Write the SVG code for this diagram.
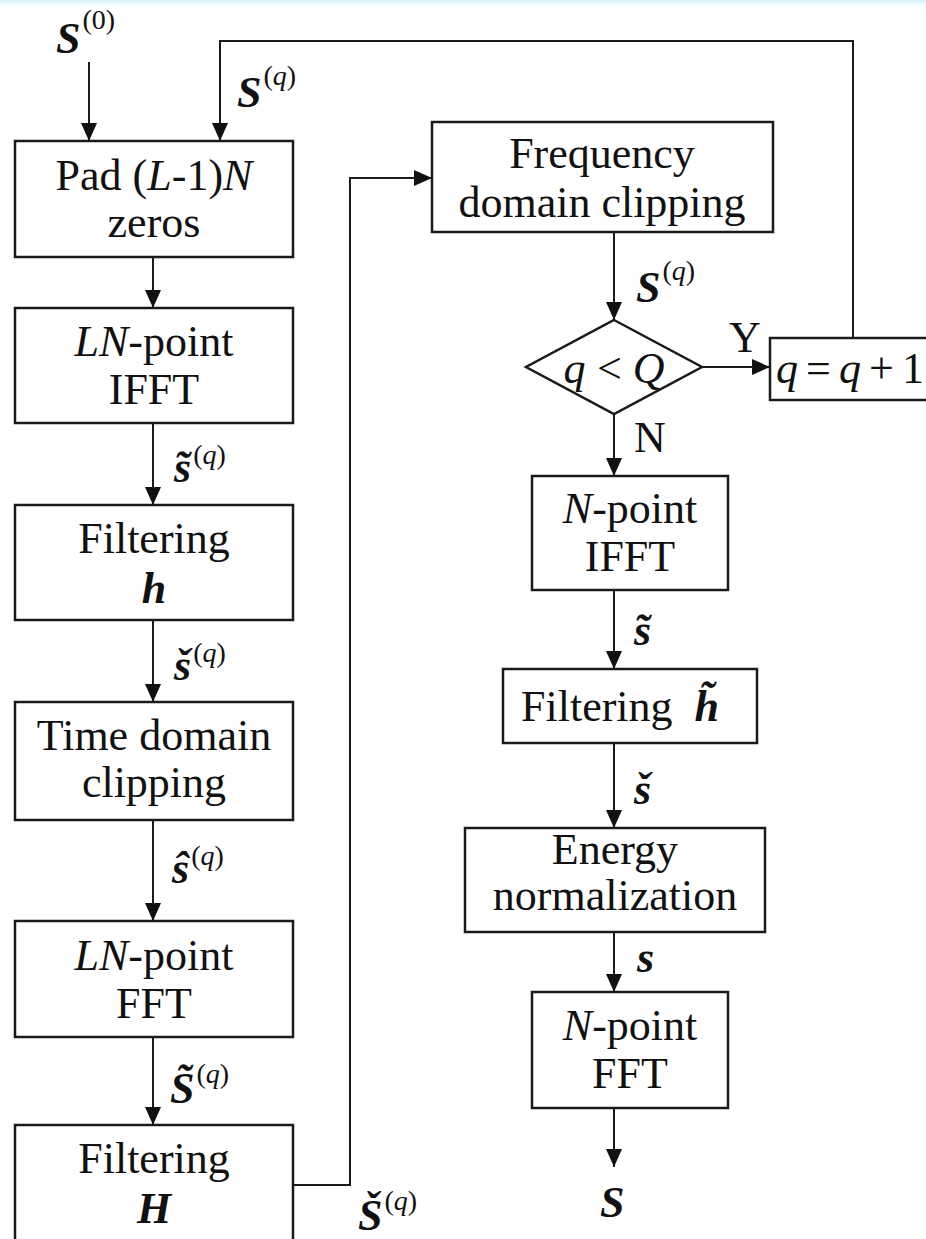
<svg xmlns="http://www.w3.org/2000/svg" width="926" height="1239" viewBox="0 0 926 1239">
  <defs>
    <style>
      .box { fill: #fff; stroke: #1a1a1a; stroke-width: 2.5; }
      .wire { fill: none; stroke: #1a1a1a; stroke-width: 2; }
      .arr { marker-end: url(#head); }
      .t { font-family: "Liberation Serif", "Times New Roman", serif; font-size: 44px; fill: #111; text-anchor: middle; }
      .it { font-style: italic; }
      .bi { font-style: italic; font-weight: bold; }
      .lbl { font-family: "Liberation Serif", "Times New Roman", serif; font-size: 44px; font-style: italic; font-weight: bold; fill: #111; }
      .sup { font-size: 28px; font-weight: normal; font-style: normal; }
    </style>
    <marker id="head" markerUnits="userSpaceOnUse" markerWidth="18" markerHeight="18" viewBox="0 0 18 18" refX="18" refY="9" orient="auto">
      <path d="M0,1 L18,9 L0,17 Z" fill="#111"/>
    </marker>
    <linearGradient id="haze" x1="0" y1="0" x2="0" y2="1">
      <stop offset="0" stop-color="#cdeef8" stop-opacity="0.9"/>
      <stop offset="1" stop-color="#ffffff" stop-opacity="0"/>
    </linearGradient>
  </defs>

  <rect width="926" height="1239" fill="#fff"/>
  <rect width="926" height="10" fill="url(#haze)"/>

  <!-- connectors -->
  <g id="connectors">
    <!-- left column -->
    <line class="wire arr" x1="89" y1="62" x2="89" y2="141"/>
    <polyline class="wire arr" points="853,338 853,41 220,41 220,141"/>
    <line class="wire arr" x1="153" y1="257" x2="153" y2="308"/>
    <line class="wire arr" x1="153" y1="423" x2="153" y2="505"/>
    <line class="wire arr" x1="153" y1="620" x2="153" y2="702"/>
    <line class="wire arr" x1="153" y1="820" x2="153" y2="921"/>
    <line class="wire arr" x1="153" y1="1037" x2="153" y2="1125"/>
    <polyline class="wire arr" points="293,1185 350,1185 350,178 432,178"/>
    <!-- right column -->
    <line class="wire arr" x1="614" y1="232" x2="614" y2="320"/>
    <line class="wire arr" x1="702" y1="367" x2="770" y2="367"/>
    <line class="wire arr" x1="614" y1="414" x2="614" y2="476"/>
    <line class="wire arr" x1="614" y1="590" x2="614" y2="669"/>
    <line class="wire arr" x1="614" y1="743" x2="614" y2="828"/>
    <line class="wire arr" x1="614" y1="932" x2="614" y2="992"/>
    <line class="wire arr" x1="614" y1="1108" x2="614" y2="1167"/>
  </g>

  <!-- left column nodes -->
  <g id="pad">
    <rect class="box" x="15" y="141" width="278" height="116"/>
    <text class="t" x="154" y="190">Pad (<tspan class="it">L</tspan>-1)<tspan class="it">N</tspan></text>
    <text class="t" x="154" y="237">zeros</text>
  </g>
  <g id="ifft-ln">
    <rect class="box" x="15" y="308" width="278" height="115"/>
    <text class="t" x="154" y="356"><tspan class="it">LN</tspan>-point</text>
    <text class="t" x="154" y="404">IFFT</text>
  </g>
  <g id="filter-h">
    <rect class="box" x="15" y="505" width="278" height="115"/>
    <text class="t" x="154" y="553">Filtering</text>
    <text class="t bi" x="154" y="603">h</text>
  </g>
  <g id="time-clip">
    <rect class="box" x="15" y="702" width="278" height="118"/>
    <text class="t" x="154" y="750">Time domain</text>
    <text class="t" x="154" y="797">clipping</text>
  </g>
  <g id="fft-ln">
    <rect class="box" x="15" y="921" width="278" height="116"/>
    <text class="t" x="154" y="970"><tspan class="it">LN</tspan>-point</text>
    <text class="t" x="154" y="1018">FFT</text>
  </g>
  <g id="filter-H">
    <rect class="box" x="15" y="1125" width="278" height="140"/>
    <text class="t" x="154" y="1173">Filtering</text>
    <text class="t bi" x="154" y="1223">H</text>
  </g>

  <!-- right column nodes -->
  <g id="freq-clip">
    <rect class="box" x="432" y="122" width="341" height="110"/>
    <text class="t" x="602" y="168">Frequency</text>
    <text class="t" x="602" y="217">domain clipping</text>
  </g>
  <g id="decision">
    <polygon class="box" points="614,320 702,367 614,414 526,367"/>
    <text class="t it" x="614" y="383">q&#x2009;&lt;&#x2009;Q</text>
  </g>
  <g id="increment">
    <rect class="box" x="770" y="338" width="170" height="62"/>
    <text class="t" x="776" y="383" style="text-anchor:start" textLength="148" lengthAdjust="spacing"><tspan class="it">q</tspan>=<tspan class="it">q</tspan>+1</text>
  </g>
  <g id="ifft-n">
    <rect class="box" x="532" y="476" width="196" height="114"/>
    <text class="t" x="630" y="523"><tspan class="it">N</tspan>-point</text>
    <text class="t" x="630" y="571">IFFT</text>
  </g>
  <g id="filter-ht">
    <rect class="box" x="503" y="669" width="254" height="74"/>
    <text class="t" x="521" y="721" style="text-anchor:start">Filtering<tspan class="bi" dx="22">h&#x303;</tspan></text>
  </g>
  <g id="energy">
    <rect class="box" x="465" y="828" width="300" height="104"/>
    <text class="t" x="615" y="864">Energy</text>
    <text class="t" x="615" y="910">normalization</text>
  </g>
  <g id="fft-n">
    <rect class="box" x="532" y="992" width="196" height="116"/>
    <text class="t" x="630" y="1040"><tspan class="it">N</tspan>-point</text>
    <text class="t" x="630" y="1088">FFT</text>
  </g>

  <!-- edge labels -->
  <g id="labels">
    <text class="lbl" x="56" y="53">S<tspan class="sup" dx="2" dy="-24">(0)</tspan></text>
    <text class="lbl" x="237" y="107">S<tspan class="sup" dx="2" dy="-22">(<tspan class="it">q</tspan>)</tspan></text>
    <text class="lbl" x="636" y="302">S<tspan class="sup" dx="2" dy="-22">(<tspan class="it">q</tspan>)</tspan></text>
    <text class="t" x="745" y="352">Y</text>
    <text class="t" x="650" y="452">N</text>

    <text class="lbl" x="174" y="482">s&#x303;<tspan class="sup" dx="2" dy="-18">(<tspan class="it">q</tspan>)</tspan></text>
    <text class="lbl" x="174" y="680">&#x161;<tspan class="sup" dx="2" dy="-18">(<tspan class="it">q</tspan>)</tspan></text>
    <text class="lbl" x="172" y="883">&#x15D;<tspan class="sup" dx="2" dy="-18">(<tspan class="it">q</tspan>)</tspan></text>
    <text class="lbl" x="170" y="1103">S&#x303;<tspan class="sup" dx="2" dy="-20">(<tspan class="it">q</tspan>)</tspan></text>
    <text class="lbl" x="358" y="1230">&#x160;<tspan class="sup" dx="2" dy="-20">(<tspan class="it">q</tspan>)</tspan></text>

    <text class="lbl" x="634" y="645">s&#x303;</text>
    <text class="lbl" x="634" y="804">&#x161;</text>
    <text class="lbl" x="637" y="972">s</text>
    <text class="lbl" x="600" y="1217">S</text>
  </g>
</svg>
